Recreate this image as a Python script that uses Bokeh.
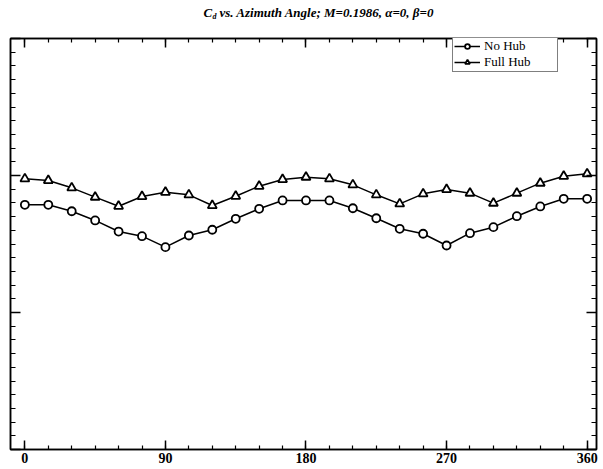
from bokeh.plotting import figure
from bokeh.layouts import column
from bokeh.models import Range1d, LinearAxis, Label, FixedTicker, Legend, LegendItem
from bokeh.embed import file_html
from bokeh.resources import INLINE

azimuth = [0, 15, 30, 45, 60, 75, 90, 105, 120, 135, 150, 165, 180,
           195, 210, 225, 240, 255, 270, 285, 300, 315, 330, 345, 360]
cd_no_hub = [0.1786, 0.1786, 0.1739, 0.1672, 0.1591, 0.1557, 0.1477, 0.1562, 0.1604,
             0.1684, 0.1757, 0.1818, 0.1818, 0.1818, 0.1761, 0.1688, 0.1611, 0.1575,
             0.1489, 0.1579, 0.1623, 0.1703, 0.1774, 0.1830, 0.1830]
cd_full_hub = [0.1976, 0.1964, 0.1910, 0.1842, 0.1776, 0.1847, 0.1878, 0.1859, 0.1781,
               0.1849, 0.1922, 0.1971, 0.1988, 0.1976, 0.1932, 0.1859, 0.1793, 0.1866,
               0.1898, 0.1871, 0.1798, 0.1871, 0.1944, 0.1995, 0.2012]
x_major = [0, 90, 180, 270, 360]
x_minor = list(range(0, 361, 15))
y_major = [0.0, 0.1, 0.2, 0.3]
y_minor = [round(i * 0.01, 2) for i in range(31)]

FONT = "Liberation Serif"

# ---- title strip ----
TH = 30
t = figure(width=603, height=TH, output_backend="svg", toolbar_location=None,
           x_range=Range1d(0, 1), y_range=Range1d(0, 1),
           min_border=0, x_axis_location=None, y_axis_location=None)
t.outline_line_color = None
t.xgrid.visible = False
t.ygrid.visible = False
ty = TH - 12
t.add_layout(Label(x=193, y=ty, x_units="screen", y_units="screen", text="C",
                   text_font=FONT, text_font_style="bold italic", text_font_size="13px",
                   text_baseline="middle", text_align="left", text_color="black"))
t.add_layout(Label(x=202, y=ty - 4, x_units="screen", y_units="screen", text="d",
                   text_font=FONT, text_font_style="bold italic", text_font_size="8px",
                   text_baseline="middle", text_align="left", text_color="black"))
t.add_layout(Label(x=209, y=ty, x_units="screen", y_units="screen",
                   text="vs. Azimuth Angle; M=0.1986, α=0, β=0",
                   text_font=FONT, text_font_style="bold italic", text_font_size="13px",
                   text_baseline="middle", text_align="left", text_color="black"))

# ---- main plot ----
p = figure(width=603, height=469 - TH, output_backend="svg", toolbar_location=None,
           x_range=Range1d(-9.2, 366), y_range=Range1d(0, 0.3),
           min_border_left=10, min_border_right=7, min_border_top=38 - TH,
           min_border_bottom=20, x_axis_location=None, y_axis_location=None)
p.xgrid.visible = False
p.ygrid.visible = False
p.outline_line_color = "black"
p.outline_line_width = 1.5
p.background_fill_color = "white"
p.border_fill_color = "white"


def style_axis(ax, ticks, minors, show_labels, major_len, minor_len):
    ax.ticker = FixedTicker(ticks=ticks, minor_ticks=minors)
    ax.axis_line_color = "black"
    ax.axis_line_width = 1.5
    ax.major_tick_in = major_len
    ax.major_tick_out = 0
    ax.minor_tick_in = minor_len
    ax.minor_tick_out = 0
    ax.major_tick_line_color = "black"
    ax.major_tick_line_width = 1.5
    ax.minor_tick_line_color = "black"
    ax.minor_tick_line_width = 1.2
    if show_labels:
        ax.major_label_text_font = FONT
        ax.major_label_text_font_style = "bold"
        ax.major_label_text_font_size = "14px"
        ax.major_label_text_color = "black"
        ax.major_label_standoff = 3
    else:
        ax.major_label_text_font_size = "0px"
        ax.major_label_standoff = 0


xb = LinearAxis()
style_axis(xb, x_major, x_minor, True, 9, 4)
p.add_layout(xb, "below")
xt = LinearAxis()
style_axis(xt, x_major, x_minor, False, 9, 4)
p.add_layout(xt, "above")
yl = LinearAxis()
style_axis(yl, y_major, y_minor, False, 10, 5)
p.add_layout(yl, "left")
yr = LinearAxis()
style_axis(yr, y_major, y_minor, False, 10, 5)
p.add_layout(yr, "right")

l1 = p.line(azimuth, cd_no_hub, line_color="black", line_width=1.5)
s1 = p.scatter(azimuth, cd_no_hub, marker="circle", size=8, fill_color="white",
               line_color="black", line_width=1.8)
l2 = p.line(azimuth, cd_full_hub, line_color="black", line_width=1.5)
s2 = p.scatter(azimuth, cd_full_hub, marker="triangle", size=9, fill_color="white",
               line_color="black", line_width=1.8)

legend = Legend(items=[LegendItem(label="No Hub", renderers=[l1, s1]),
                       LegendItem(label="Full Hub", renderers=[l2, s2])],
                location=(442, 377))
legend.label_text_font = FONT
legend.label_text_font_size = "13px"
legend.label_text_color = "black"
legend.label_height = 12
legend.label_width = 72
legend.glyph_height = 12
legend.glyph_width = 26
legend.label_standoff = 4
legend.padding = 1
legend.spacing = 0
legend.margin = 0
legend.border_line_color = "black"
legend.border_line_width = 1.2
legend.background_fill_alpha = 1.0
p.add_layout(legend, "center")

layout = column(t, p, spacing=0)
open("out.html", "w").write(file_html(layout, INLINE))
